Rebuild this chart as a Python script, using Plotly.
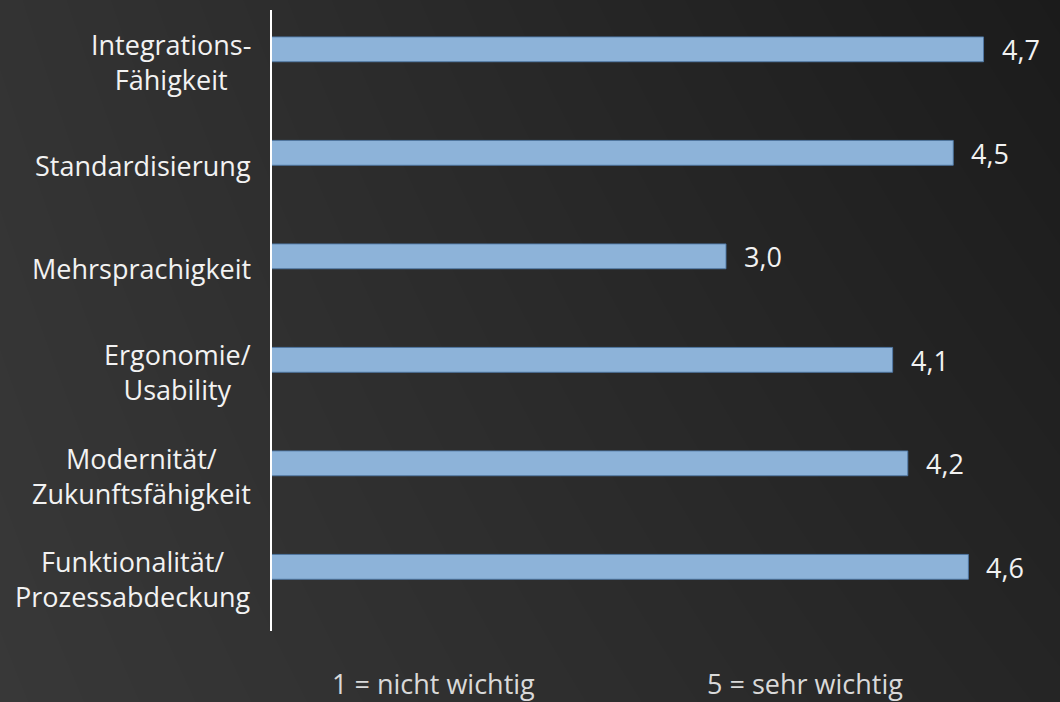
import plotly.graph_objects as go

# Criteria, listed top to bottom, and their mean importance ratings
categories = [
    "Integrations-<br>Fähigkeit",
    "Standardisierung",
    "Mehrsprachigkeit",
    "Ergonomie/<br>Usability",
    "Modernität/<br>Zukunftsfähigkeit",
    "Funktionalität/<br>Prozessabdeckung",
]
ratings = [4.7, 4.5, 3.0, 4.1, 4.2, 4.6]

scale_notes = ["1 = nicht wichtig", "5 = sehr wichtig"]

W, H = 1060, 702
FONT = "Open Sans"
BAR_COLOR = "#8DB3D9"

# plot-area placement in pixels
left_px, top_px, bottom_px = 271.5, 10, 631
x_max = 5.1
px_per_unit = 151.5
right_px = left_px + x_max * px_per_unit

fig = go.Figure()

# dark background shading: light on the left, darkest in the upper right
fig.add_trace(go.Heatmap(
    x=[0, W], y=[0, H],
    z=[[51, 27], [56, 37]],
    zmin=27, zmax=56,
    colorscale=[[0, "rgb(27,27,27)"], [1, "rgb(56,56,56)"]],
    zsmooth="best", showscale=False, hoverinfo="skip",
    xaxis="x", yaxis="y",
))

fig.add_trace(go.Bar(
    x=ratings, y=categories, orientation="h",
    width=0.24, offset=-0.24,
    marker=dict(color=BAR_COLOR, line=dict(color="rgba(79,120,165,0.9)", width=1)),
    xaxis="x2", yaxis="y2", hoverinfo="skip",
))

annotations = []
# category labels, centred lines, right edge next to the axis
for cat in categories:
    annotations.append(dict(
        xref="x2 domain", x=0, yref="y2", y=cat,
        text=cat, showarrow=False, xanchor="right", yanchor="middle",
        align="center", xshift=-19,
        font=dict(family=FONT, size=27, color="#F2F2F2"),
    ))
# value labels at the end of each bar
for cat, v in zip(categories, ratings):
    annotations.append(dict(
        xref="x2", x=v, yref="y2", y=cat,
        text=f"{v:.1f}".replace(".", ","), showarrow=False,
        xanchor="left", yanchor="middle", xshift=16, yshift=12,
        font=dict(family=FONT, size=27, color="#F2F2F2"),
    ))
# rating scale explanation below the chart
for txt, cx in zip(scale_notes, [433, 805]):
    annotations.append(dict(
        xref="paper", x=cx / W, yref="paper", y=(H - 683) / H,
        text=txt, showarrow=False, xanchor="center", yanchor="middle",
        font=dict(family=FONT, size=27, color="#D9D9D9"),
    ))

fig.update_layout(
    width=W, height=H,
    margin=dict(l=0, r=0, t=0, b=0),
    paper_bgcolor="#2B2B2B", plot_bgcolor="rgba(0,0,0,0)",
    showlegend=False,
    xaxis=dict(domain=[0, 1], range=[0, W], visible=False, fixedrange=True),
    yaxis=dict(domain=[0, 1], range=[H, 0], visible=False, fixedrange=True),
    xaxis2=dict(
        domain=[left_px / W, right_px / W], range=[0, x_max],
        anchor="y2", visible=False, showgrid=False, zeroline=False,
    ),
    yaxis2=dict(
        domain=[(H - bottom_px) / H, (H - top_px) / H],
        anchor="x2", type="category", categoryorder="array",
        categoryarray=categories, range=[len(categories) - 0.5, -0.5],
        showline=True, linecolor="#FFFFFF", linewidth=2,
        showticklabels=False, ticks="", showgrid=False, zeroline=False,
    ),
    annotations=annotations,
)

fig.write_html("out.html")
